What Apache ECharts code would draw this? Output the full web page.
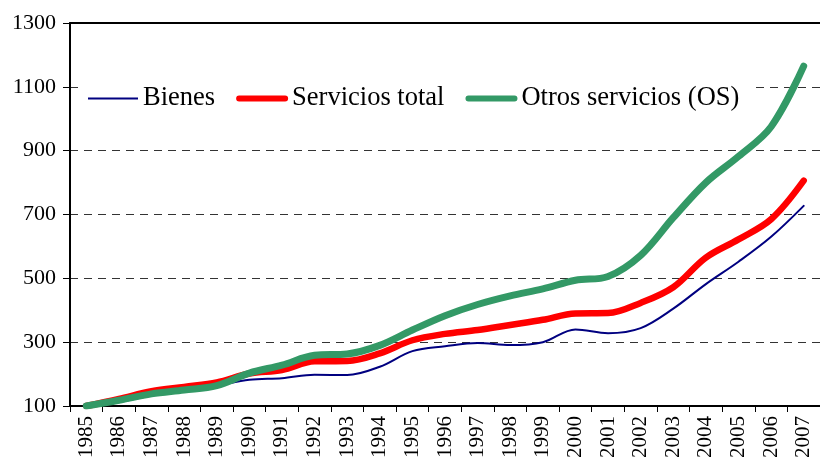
<!DOCTYPE html>
<html>
<head>
<meta charset="utf-8">
<script src="https://cdn.jsdelivr.net/npm/echarts@6/dist/echarts.min.js"></script>
<style>
  html, body { margin: 0; padding: 0; background: #fff; }
  #chart { width: 820px; height: 464px; }
</style>
</head>
<body>
<div id="chart"></div>
<script>
// values (index, 1985 = 100)
const years = ['1985','1986','1987','1988','1989','1990','1991','1992','1993','1994','1995','1996',
  '1997','1998','1999','2000','2001','2002','2003','2004','2005','2006','2007']
const bienes = [100, 112, 133, 148, 164, 182, 187, 198, 197, 223, 272, 287,
  297, 291, 300, 340, 328, 344, 405, 482, 552, 630, 727]
const servicios = [100, 122, 146, 160, 174, 202, 213, 240, 241, 265, 306, 326,
  338, 354, 370, 390, 391, 423, 472, 565, 622, 685, 806]
const otros = [100, 118, 138, 150, 164, 203, 228, 259, 263, 290, 338, 383,
  418, 445, 467, 494, 506, 572, 690, 800, 882, 975, 1165]
const yTicks = { min: 100, max: 1300, step: 200 }

const font = '"Liberation Serif", "DejaVu Serif", serif'

// legend icons: a line of given thickness inside a 50x10 box
// (tiny corner marks keep the box size so the icon is not stretched)
const box = ' M0,0 L0.05,0 L0,0.05 Z M50,10 L49.95,10 L50,9.95 Z'
const thinIcon = 'path://M0,4 L50,4 L50,6 L0,6 Z' + box
const thickIcon = 'path://M2,2 L48,2 A3,3 0 0 1 48,8 L2,8 A3,3 0 0 1 2,2 Z' + box

const initChart = () => {
  const myChart = echarts.init(document.getElementById('chart'), null, { renderer: 'canvas' })

  const mkLine = (name, data, color, width) => ({
    name: name,
    type: 'line',
    data: data,
    smooth: 0.35,
    symbol: 'none',
    lineStyle: { color: color, width: width, cap: 'round', join: 'round' },
    itemStyle: { color: color }
  })

  myChart.setOption({
    animation: false,
    backgroundColor: '#fff',
    textStyle: { fontFamily: font },
    grid: { left: 70, top: 23, bottom: 58, right: -9, containLabel: false },
    legend: {
      left: 80, top: 81,
      padding: [4, 12, 4, 8],
      backgroundColor: '#fff',
      itemWidth: 52, itemHeight: 10, itemGap: 21,
      textStyle: { fontFamily: font, fontSize: 26.5, color: '#000', padding: [0, 0, 0, -1] },
      data: [
        { name: 'Bienes', icon: thinIcon },
        { name: 'Servicios total', icon: thickIcon },
        { name: 'Otros servicios (OS)', icon: thickIcon }
      ]
    },
    xAxis: [{
      type: 'category',
      data: years,
      boundaryGap: true,
      axisLine: { lineStyle: { color: '#000', width: 2 } },
      axisTick: { show: true, length: 6, alignWithLabel: false, lineStyle: { color: '#000', width: 1 } },
      axisLabel: { rotate: 90, fontFamily: font, fontSize: 21, color: '#000', margin: 10, interval: 0 },
      splitLine: { show: false }
    }, {
      type: 'category',
      data: years,
      position: 'top',
      axisLine: { show: true, lineStyle: { color: '#000', width: 2 } },
      axisTick: { show: false },
      axisLabel: { show: false }
    }],
    yAxis: {
      type: 'value',
      min: yTicks.min, max: yTicks.max, interval: yTicks.step,
      axisLine: { show: true, lineStyle: { color: '#000', width: 2 } },
      axisTick: { show: true, inside: false, length: 7, lineStyle: { color: '#000', width: 1 } },
      axisLabel: { fontFamily: font, fontSize: 22, color: '#000', margin: 14, formatter: v => String(v) },
      splitLine: { show: true, lineStyle: { color: '#333', type: [8, 6], width: 1 } }
    },
    series: [
      mkLine('Bienes', bienes, '#000080', 2),
      mkLine('Servicios total', servicios, '#ff0000', 6.5),
      mkLine('Otros servicios (OS)', otros, '#339966', 7)
    ]
  })
}

window.addEventListener('load', () => {
  initChart()
})
</script>
</body>
</html>
